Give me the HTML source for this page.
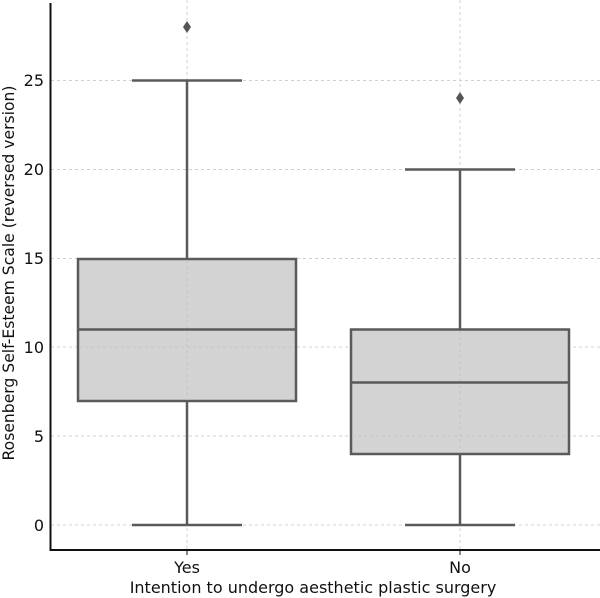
<!DOCTYPE html>
<html><head><style>body{margin:0;background:#fff}svg{display:block}</style></head><body>
<svg width="600" height="598" xmlns="http://www.w3.org/2000/svg" font-family="DejaVu Sans, Liberation Sans, sans-serif">
<g stroke="#d0d0d0" stroke-width="1" stroke-dasharray="3,3">
<line x1="51" x2="600" y1="525" y2="525"/><line x1="51" x2="600" y1="436" y2="436"/><line x1="51" x2="600" y1="347" y2="347"/><line x1="51" x2="600" y1="258.5" y2="258.5"/><line x1="51" x2="600" y1="169.5" y2="169.5"/><line x1="51" x2="600" y1="80.5" y2="80.5"/>
<line x1="187" x2="187" y1="0" y2="549"/><line x1="460" x2="460" y1="0" y2="549"/>
</g>
<g stroke="#5a5a5a" stroke-width="2.5" fill="#d3d3d3">
<rect x="78" y="259" width="218" height="142"/>
<rect x="351" y="329.5" width="218" height="124.5"/>
</g>
<g stroke="#c4c4c4" stroke-width="1" stroke-dasharray="3,3">
<line x1="79" x2="295" y1="347" y2="347"/><line x1="187" x2="187" y1="260" y2="400"/>
<line x1="352" x2="568" y1="436" y2="436"/><line x1="460" x2="460" y1="331" y2="453"/>
</g>
<g stroke="#5a5a5a" stroke-width="2.5" fill="none">
<line x1="78" x2="296" y1="329.5" y2="329.5"/>
<line x1="187" x2="187" y1="259" y2="80.5"/><line x1="187" x2="187" y1="401" y2="525"/>
<line x1="132" x2="242" y1="80.5" y2="80.5"/><line x1="132" x2="242" y1="525" y2="525"/>
<line x1="351" x2="569" y1="382.5" y2="382.5"/>
<line x1="460" x2="460" y1="329.5" y2="169.5"/><line x1="460" x2="460" y1="454" y2="525"/>
<line x1="405" x2="515" y1="169.5" y2="169.5"/><line x1="405" x2="515" y1="525" y2="525"/>
</g>
<g fill="#555"><path d="M187 21 L191 27 L187 33 L183 27Z"/><path d="M460 92 L464 98 L460 104 L456 98Z"/></g>
<path d="M50.5 3 V550 H600" stroke="#111" stroke-width="2" fill="none"/>
<g stroke="#111"><line x1="187" x2="187" y1="550" y2="555"/><line x1="460" x2="460" y1="550" y2="555"/></g>
<g font-size="16" fill="#111" text-anchor="end">
<text x="44" y="531">0</text><text x="44" y="442">5</text><text x="44" y="353">10</text><text x="44" y="264">15</text><text x="44" y="175">20</text><text x="44" y="86">25</text>
</g>
<g fill="#111" text-anchor="middle">
<text x="187" y="573" font-size="16">Yes</text><text x="460" y="573" font-size="16">No</text>
<text x="313" y="593" font-size="16">Intention to undergo aesthetic plastic surgery</text>
<text transform="translate(14,273) rotate(-90)" font-size="15.6">Rosenberg Self-Esteem Scale (reversed version)</text>
</g>
</svg>
</body></html>
